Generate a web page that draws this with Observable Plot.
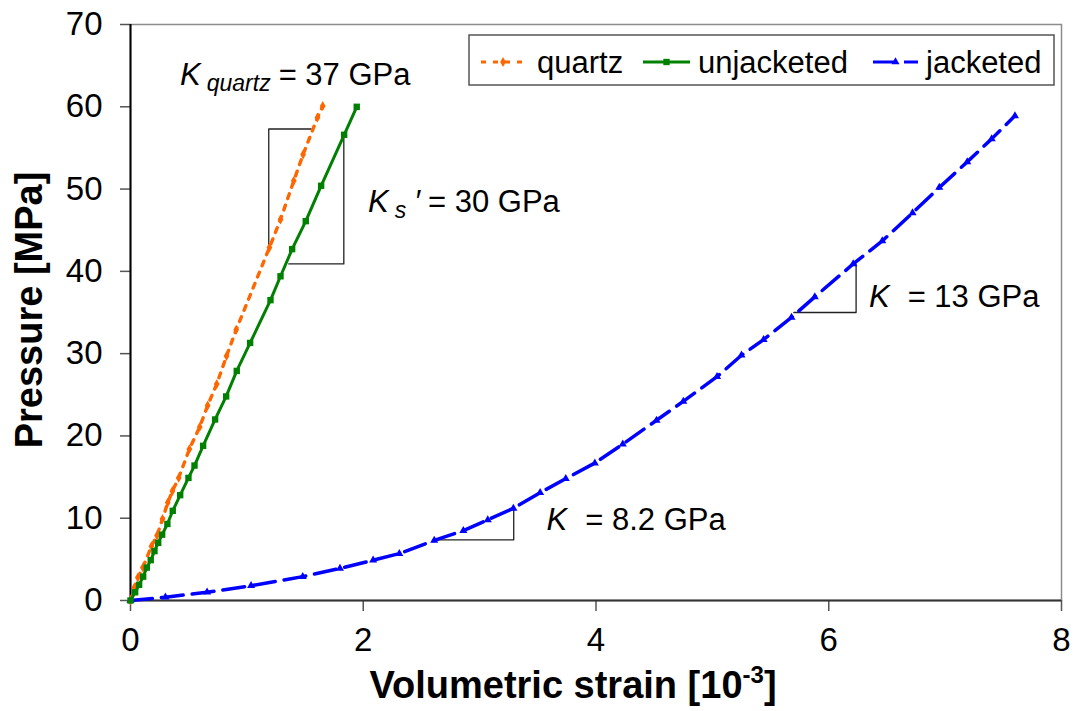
<!DOCTYPE html>
<html><head><meta charset="utf-8">
<script src="https://cdn.jsdelivr.net/npm/d3@7"></script>
<script src="https://cdn.jsdelivr.net/npm/@observablehq/plot@0.6"></script>
<style>
body{margin:0;background:#fff} svg{display:block}
</style>
</head><body><div id="chart"></div>
<script>
// ---- data ----
const xTicks = [0, 2, 4, 6, 8];
const yTicks = [0, 10, 20, 30, 40, 50, 60, 70];

const quartzStrain = [0, 0.034, 0.063, 0.106, 0.180, 0.228, 0.275, 0.320, 0.360, 0.414, 0.506, 0.595, 0.663, 0.741, 0.825, 0.908, 1.194, 1.289, 1.403, 1.483, 1.607, 1.652];
const quartzPressure = [0, 1.6, 2.8, 4.0, 6.6, 7.9, 9.9, 11.9, 13.3, 14.9, 18.4, 21.1, 23.7, 26.3, 29.7, 32.9, 42.9, 46.3, 51.0, 54.2, 58.7, 60.1];

const unjStrain = [0, 0.040, 0.074, 0.109, 0.140, 0.174, 0.206, 0.238, 0.272, 0.317, 0.363, 0.427, 0.498, 0.550, 0.624, 0.727, 0.822, 0.913, 1.028, 1.203, 1.289, 1.389, 1.506, 1.638, 1.836, 1.944];
const unjPressure = [0, 1.0, 1.9, 2.9, 4.0, 4.9, 6.0, 7.0, 8.0, 9.3, 10.9, 12.8, 14.9, 16.4, 18.8, 22.0, 24.8, 27.9, 31.3, 36.5, 39.4, 42.7, 46.1, 50.4, 56.6, 60.0];

const jacStrain = [0, 0.30, 0.658, 1.036, 1.48, 1.80, 2.085, 2.31, 2.61, 2.86, 3.07, 3.29, 3.52, 3.74, 3.99, 4.23, 4.52, 4.75, 5.04, 5.25, 5.44, 5.68, 5.88, 6.21, 6.46, 6.72, 6.95, 7.19, 7.40, 7.60];
const jacPressure = [0, 0.4, 1.0, 1.8, 2.9, 3.9, 4.9, 5.7, 7.3, 8.5, 9.8, 11.2, 13.1, 14.8, 16.7, 19.0, 21.9, 24.2, 27.2, 29.8, 31.7, 34.4, 36.9, 40.9, 43.7, 47.1, 50.2, 53.3, 56.1, 58.9];

// slope triangles (id, strain, pressure)
const bracketId = ["q","q","q","u","u","u","k13","k13","k13","k8","k8","k8"];
const bracketStrain = [1.552, 1.188, 1.188, 1.833, 1.833, 1.36, 6.235, 6.235, 5.70, 3.293, 3.293, 2.62];
const bracketPressure = [57.3, 57.3, 42.7, 56.6, 40.9, 40.9, 40.9, 35.0, 35.0, 11.3, 7.37, 7.37];

const seriesNames = ["quartz", "unjacketed", "jacketed"];
const seriesColors = ["#FF6600", "#008000", "#0000FF"];

// annotations: anchor in data coords, text parts
const annoStrain = [0.43, 2.045, 6.35, 3.58];
const annoPressure = [62.6, 47.2, 35.6, 8.45];
const annoParts = [
  [{t:"K", i:true}, {t:"quartz", i:true, sub:true}, {t:"= 37 GPa"}],
  [{t:"K", i:true}, {t:"s", i:true, sub:true}, {t:"′", i:true}, {t:"= 30 GPa"}],
  [{t:"K", i:true}, {t:"= 13 GPa", gap:true}],
  [{t:"K", i:true}, {t:"= 8.2 GPa", gap:true}]
];

// ---- build tables ----
const toRows = (xs, ys) => xs.map((x, i) => ({x, y: ys[i]}));
const quartz = toRows(quartzStrain, quartzPressure);
const unj = toRows(unjStrain, unjPressure);
const jac = toRows(jacStrain, jacPressure);
const brackets = bracketStrain.map((x, i) => ({id: bracketId[i], x, y: bracketPressure[i]}));

const FONT = "'Liberation Sans', Arial, Helvetica, sans-serif";
const QDASH = "5,7";

const chart = Plot.plot({
  width: 1075, height: 711,
  marginLeft: 130, marginRight: 14, marginTop: 24, marginBottom: 111,
  style: {fontFamily: FONT, background: "white", color: "black", overflow: "visible"},
  x: {domain: [0, 8]},
  y: {domain: [0, 70]},
  marks: [
    Plot.frame({stroke: "#8c8c8c", strokeWidth: 1.5}),
    Plot.axisX({ticks: xTicks, tickSize: 11, tickPadding: 16, fontSize: 33, label: null, stroke: "#555", strokeWidth: 1.5}),
    Plot.axisY({ticks: yTicks, tickSize: 10, tickPadding: 18, fontSize: 33, label: null, stroke: "#555", strokeWidth: 1.5}),
    Plot.ruleY([0], {stroke: "#333", strokeWidth: 2}),
    Plot.ruleX([0], {stroke: "black", strokeWidth: 2}),
    Plot.line(brackets, {x: "x", y: "y", z: "id", stroke: "#222", strokeWidth: 1.3}),
    Plot.line(jac, {x: "x", y: "y", stroke: seriesColors[2], strokeWidth: 3.5, strokeDasharray: "22,9"}),
    Plot.dot(jac, {x: "x", y: "y", symbol: "triangle", r: 3, fill: seriesColors[2]}),
    Plot.line(quartz, {x: "x", y: "y", stroke: seriesColors[0], strokeWidth: 3.4, strokeDasharray: QDASH}),
    Plot.dot(quartz, {x: "x", y: "y", symbol: "diamond", r: 3, fill: seriesColors[0]}),
    Plot.line(unj, {x: "x", y: "y", stroke: seriesColors[1], strokeWidth: 3}),
    Plot.dot(unj, {x: "x", y: "y", symbol: "square", r: 3.6, fill: seriesColors[1]})
  ]
});
document.getElementById("chart").appendChild(chart);

const svg = d3.select(chart);
svg.selectAll("g[aria-label='x-axis tick label'], g[aria-label='y-axis tick label']")
  .attr("font-size", 33).style("font-size", "33px");
const sx = chart.scale("x"), sy = chart.scale("y");

// annotations
annoParts.forEach((parts, k) => {
  const t = svg.append("text")
    .attr("x", sx.apply(annoStrain[k]))
    .attr("y", sy.apply(annoPressure[k]))
    .attr("text-anchor", "start")
    .attr("font-family", FONT).attr("font-size", 31).attr("fill", "black");
  let shifted = 0;
  parts.forEach((p, j) => {
    const ts = t.append("tspan").text(p.t);
    if (p.i) ts.attr("font-style", "italic");
    let dy = 0;
    if (p.sub) { ts.attr("font-size", 23); dy = 6 - shifted; shifted = 6; }
    else if (shifted) { dy = -shifted; shifted = 0; }
    if (dy) ts.attr("dy", dy);
    if (j > 0) ts.attr("dx", p.gap ? 18 : (p.sub ? 6 : 8));
  });
});

// axis titles
svg.append("text")
  .attr("transform", "translate(42,310) rotate(-90)")
  .attr("text-anchor", "middle")
  .attr("font-family", FONT).attr("font-weight", "bold").attr("font-size", 38)
  .attr("fill", "black").text("Pressure [MPa]");

const xt = svg.append("text")
  .attr("x", 573).attr("y", 698)
  .attr("text-anchor", "middle")
  .attr("font-family", FONT).attr("font-weight", "bold").attr("font-size", 38)
  .attr("fill", "black");
xt.append("tspan").text("Volumetric strain [10");
xt.append("tspan").attr("font-size", 24).attr("dy", -15).text("-3");
xt.append("tspan").attr("dy", 15).text("]");

// legend
const lg = svg.append("g").attr("text-anchor", "start");
lg.append("rect").attr("x", 469).attr("y", 35).attr("width", 585).attr("height", 50)
  .attr("fill", "white").attr("stroke", "#555").attr("stroke-width", 1.5);
const legX = [481, 643, 873];
const legW = [44, 47, 45];
const legTextX = [537, 698, 926];
const legDash = [QDASH, null, "22,9"];
const legSym = [d3.symbolDiamond, d3.symbolSquare, d3.symbolTriangle];
const legSize = [28, 40, 28];
const cy = 62;
seriesNames.forEach((name, i) => {
  const l = lg.append("line").attr("x1", legX[i]).attr("x2", legX[i] + legW[i])
    .attr("y1", cy).attr("y2", cy).attr("stroke", seriesColors[i]).attr("stroke-width", 3.2);
  if (legDash[i]) l.attr("stroke-dasharray", legDash[i]);
  lg.append("path").attr("d", d3.symbol(legSym[i], legSize[i])())
    .attr("transform", `translate(${legX[i] + legW[i] / 2},${cy})`).attr("fill", seriesColors[i]);
  lg.append("text").attr("x", legTextX[i]).attr("y", cy + 11).attr("text-anchor", "start")
    .attr("font-family", FONT).attr("font-size", 31).attr("fill", "black").text(name);
});
</script>
</body></html>
